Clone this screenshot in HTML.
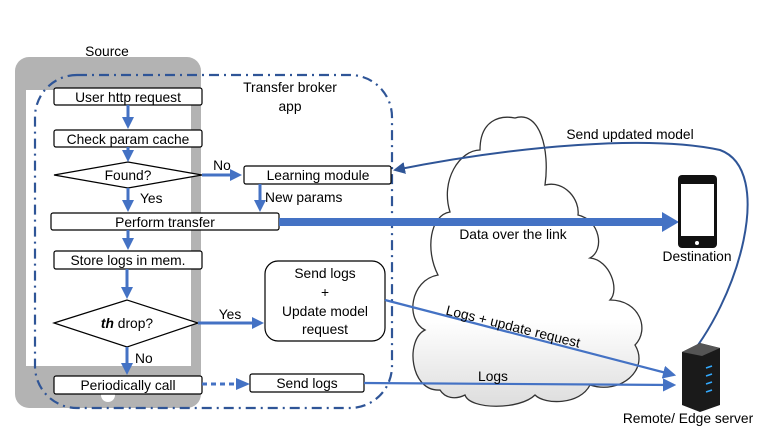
<!DOCTYPE html>
<html><head><meta charset="utf-8"><style>
body{margin:0;background:#fff}
svg{display:block}
text{font-family:"Liberation Sans",sans-serif;font-size:13.8px;fill:#000}
</style></head><body>
<svg width="763" height="429" viewBox="0 0 763 429">
<defs>
<marker id="a" markerWidth="6" markerHeight="6" refX="5" refY="3" orient="auto" markerUnits="strokeWidth"><path d="M0,0 L6,3 L0,6z" fill="#4472C4"/></marker>
<marker id="b" markerWidth="4" markerHeight="4" refX="3" refY="2" orient="auto" markerUnits="strokeWidth"><path d="M0,0 L4,2 L0,4z" fill="#4472C4"/></marker>
<marker id="c" markerWidth="6" markerHeight="6" refX="5" refY="3" orient="auto" markerUnits="strokeWidth"><path d="M0,0 L6,3 L0,6z" fill="#2F5597"/></marker>
<linearGradient id="cg" x1="0" y1="0" x2="0" y2="1"><stop offset="0.7" stop-color="#fff"/><stop offset="1" stop-color="#ddd"/></linearGradient>
</defs>
<rect x="15" y="57" width="186" height="351" rx="14" fill="#b3b3b3"/>
<rect x="26" y="90" width="165" height="276" fill="#fff"/>
<circle cx="108" cy="395" r="7" fill="#fff"/>
<text x="107" y="56" text-anchor="middle">Source</text>
<path d="M440,390 C410,392 405,340 425,330 C405,320 410,280 438,275 C425,250 430,215 450,212 C440,180 460,150 480,150 C480,120 500,115 515,118 C540,110 550,150 545,185 C565,180 580,200 578,215 C600,220 605,250 590,258 C610,260 620,290 610,300 C640,300 650,330 635,345 C650,370 620,395 590,385 C580,405 545,405 535,395 C520,410 470,410 465,395 C455,400 445,398 440,390Z" fill="url(#cg)" stroke="#333" stroke-width="1.3"/>
<rect x="35" y="75" width="357" height="333" rx="42" fill="none" stroke="#2F5597" stroke-width="2.2" stroke-dasharray="10,5,2,5"/>
<text x="290" y="92" text-anchor="middle">Transfer broker</text>
<text x="290" y="111" text-anchor="middle">app</text>
<g fill="#fff" stroke="#000" stroke-width="1.2">
<rect x="54" y="88" width="148" height="17" rx="2"/>
<rect x="54" y="130" width="148" height="17" rx="2"/>
<polygon points="54,175 128,162 202,175 128,188"/>
<rect x="51" y="213" width="228" height="17" rx="2"/>
<rect x="54" y="251" width="148" height="18" rx="2"/>
<polygon points="54,323 127,300 198,323 127,347"/>
<rect x="54" y="376" width="148" height="18" rx="2"/>
<rect x="244" y="166" width="147" height="18" rx="2"/>
<rect x="265" y="261" width="120" height="80" rx="13"/>
<rect x="250" y="374" width="114" height="18" rx="2"/>
</g>
<text x="128" y="102" text-anchor="middle">User http request</text>
<text x="128" y="144" text-anchor="middle">Check param cache</text>
<text x="128" y="180" text-anchor="middle">Found?</text>
<text x="165" y="227" text-anchor="middle">Perform transfer</text>
<text x="128" y="265" text-anchor="middle">Store logs in mem.</text>
<text x="127" y="328" text-anchor="middle"><tspan font-weight="bold" font-style="italic">th</tspan> drop?</text>
<text x="128" y="390" text-anchor="middle">Periodically call</text>
<text x="318" y="180" text-anchor="middle">Learning module</text>
<text x="325" y="278" text-anchor="middle">Send logs</text>
<text x="325" y="297" text-anchor="middle">+</text>
<text x="325" y="316" text-anchor="middle">Update model</text>
<text x="325" y="334" text-anchor="middle">request</text>
<text x="307" y="388" text-anchor="middle">Send logs</text>
<g stroke="#4472C4" stroke-width="3" fill="none">
<line x1="128" y1="105" x2="128" y2="126" marker-end="url(#b)"/>
<line x1="128" y1="147" x2="128" y2="159" marker-end="url(#b)"/>
<line x1="128" y1="188" x2="128" y2="209" marker-end="url(#b)"/>
<line x1="202" y1="175" x2="239" y2="175" marker-end="url(#b)"/>
<line x1="260" y1="184" x2="260" y2="209" marker-end="url(#b)"/>
<line x1="128" y1="230" x2="128" y2="247" marker-end="url(#b)"/>
<line x1="127" y1="269" x2="127" y2="296" marker-end="url(#b)"/>
<line x1="198" y1="323" x2="261" y2="323" marker-end="url(#b)"/>
<line x1="127" y1="347" x2="127" y2="372" marker-end="url(#b)"/>
<line x1="202" y1="384" x2="238" y2="384" stroke-dasharray="5,4"/>
</g>
<path d="M236,378 L250,384 L236,390z" fill="#4472C4"/>
<text x="222" y="170" text-anchor="middle">No</text>
<text x="140" y="203">Yes</text>
<text x="265" y="202">New params</text>
<text x="230" y="319" text-anchor="middle">Yes</text>
<text x="135" y="363">No</text>
<line x1="279" y1="222" x2="665" y2="222" stroke="#4472C4" stroke-width="8"/>
<path d="M662,212 L679,222 L662,232z" fill="#4472C4"/>
<text x="513" y="239" text-anchor="middle">Data over the link</text>
<line x1="385" y1="300" x2="674" y2="375" stroke="#4472C4" stroke-width="2.2" marker-end="url(#a)"/>
<line x1="364" y1="383" x2="674" y2="385" stroke="#4472C4" stroke-width="2.2" marker-end="url(#a)"/>
<text x="512" y="331" text-anchor="middle" transform="rotate(14 512 331)">Logs + update request</text>
<text x="493" y="381" text-anchor="middle">Logs</text>
<path d="M683,364 C740,300 775,170 720,150 C650,135 520,145 395,170" fill="none" stroke="#2F5597" stroke-width="2" marker-end="url(#c)"/>
<text x="630" y="139" text-anchor="middle">Send updated model</text>
<rect x="678" y="175" width="39" height="73" rx="4" fill="#111"/>
<rect x="681" y="184" width="33" height="52" fill="#fff"/>
<circle cx="697" cy="243" r="2" fill="#fff"/>
<text x="697" y="261" text-anchor="middle">Destination</text>
<polygon points="682,352 700,343 720,348 720,405 700,412 682,405" fill="#1a1a1a"/>
<polygon points="682,352 700,343 720,348 702,356" fill="#555"/>
<g stroke="#3af" stroke-width="1.5"><line x1="706" y1="368" x2="712" y2="366"/><line x1="706" y1="376" x2="712" y2="374"/><line x1="706" y1="384" x2="712" y2="382"/><line x1="706" y1="392" x2="712" y2="390"/></g>
<text x="688" y="423" text-anchor="middle">Remote/ Edge server</text>
</svg>
</body></html>
